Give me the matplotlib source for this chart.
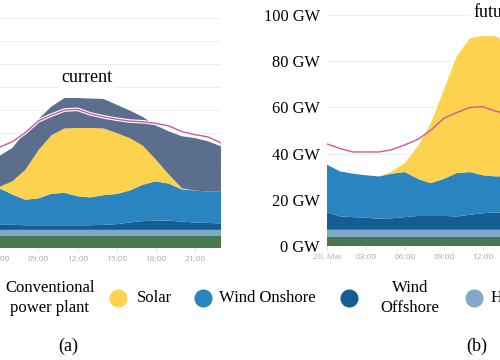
import matplotlib
matplotlib.use("Agg")
import matplotlib.pyplot as plt
import matplotlib.patheffects as pe
from matplotlib.lines import Line2D

hours = list(range(24))
tick_hours = [0, 3, 6, 9, 12, 15, 18, 21]
tick_labels = ["20. Mai", "03:00", "06:00", "09:00", "12:00", "15:00", "18:00", "21:00"]

# load (same day in both panels)
load = [44.2, 42.2, 40.7, 40.7, 40.7, 41.7, 43.8, 46.2, 50.2, 55.3, 57.8, 60.0,
        60.3, 58.3, 57.0, 56.0, 55.2, 54.9, 54.2, 53.1, 50.6, 49.3, 48.3, 45.7]

# current generation mix (GW)
biomass_cur = [5.3, 5.3, 5.3, 5.3, 5.3, 5.3, 5.3, 5.3, 5.3, 5.3, 5.3, 5.3,
               5.3, 5.3, 5.3, 5.3, 5.3, 5.3, 5.3, 5.3, 5.3, 5.3, 5.3, 5.3]
hydro_cur = [2.6, 2.6, 2.6, 2.6, 2.6, 2.6, 2.6, 2.6, 2.6, 2.6, 2.6, 2.6,
             2.6, 2.6, 2.6, 2.6, 2.6, 2.6, 2.6, 2.6, 2.6, 2.6, 2.6, 2.6]
offshore_cur = [2.5, 2.5, 2.4, 2.3, 2.2, 2.2, 2.2, 2.2, 2.0, 2.0, 2.0, 2.0,
                2.0, 2.0, 2.2, 2.5, 3.2, 3.8, 4.0, 4.0, 3.6, 3.2, 3.0, 2.8]
onshore_cur = [18.0, 18.5, 18.5, 18.0, 17.5, 17.0, 15.9, 13.2, 11.1, 11.7, 13.7, 14.1,
               12.6, 12.1, 12.9, 13.1, 13.9, 15.8, 17.1, 16.1, 14.0, 13.9, 13.6, 13.8]
solar_cur = [0, 0, 0, 0, 0, 0, 0.5, 5.7, 13.0, 20.9, 25.4, 28.0,
             29.7, 30.2, 29.0, 26.5, 22.8, 17.0, 9.5, 4.0, 0.5, 0, 0, 0]
conventional_cur = [14.0, 13.5, 13.0, 13.0, 13.0, 13.0, 13.5, 14.5, 16.5, 13.5, 12.5, 13.2,
                    13.0, 12.8, 12.8, 12.3, 12.0, 12.5, 14.8, 18.7, 22.6, 22.8, 21.9, 19.7]

# future generation mix (GW)
biomass_fut = [4.1, 4.1, 4.1, 4.1, 4.1, 4.1, 4.1, 4.1, 4.1, 4.1, 4.1, 4.1,
               4.1, 4.1, 4.1, 4.1, 4.1, 4.1, 4.1, 4.1, 4.1, 4.1, 4.1, 4.1]
hydro_fut = [2.9, 2.9, 2.9, 2.9, 2.9, 2.9, 2.9, 2.9, 2.9, 2.9, 2.9, 2.9,
             2.9, 2.9, 2.9, 2.9, 2.9, 2.9, 2.9, 2.9, 2.9, 2.9, 2.9, 2.9]
offshore_fut = [7.6, 5.8, 5.5, 5.2, 4.8, 5.0, 5.5, 6.0, 6.0, 6.0, 5.8, 6.5,
                7.2, 7.5, 7.5, 7.3, 7.0, 7.0, 7.2, 7.5, 7.8, 8.0, 8.0, 8.0]
onshore_fut = [20.6, 19.5, 18.8, 18.4, 18.3, 19.3, 19.5, 16.0, 14.2, 16.1, 18.8, 18.5,
               16.4, 15.6, 16.0, 17.0, 18.5, 20.0, 21.0, 21.0, 20.0, 19.5, 19.0, 19.0]
solar_fut = [0, 0, 0, 0, 0, 1.0, 4.0, 14.2, 26.1, 38.7, 50.7, 57.9,
             60.4, 60.6, 57.0, 50.0, 40.0, 28.0, 16.0, 6.0, 1.0, 0, 0, 0]

c_bio = "#47784f"
c_hydro = "#80a8c8"
c_off = "#135d93"
c_on = "#2a84c0"
c_solar = "#fdd24f"
c_conv = "#5b6e8d"
c_load = "#cc5a98"

serif = ["Liberation Serif", "DejaVu Serif"]

fig = plt.figure(figsize=(5, 3.6), dpi=100)

def style_axis(ax, yticks):
    ax.set_xlim(0, 23)
    ax.set_ylim(0, 100)
    for s in ax.spines.values():
        s.set_visible(False)
    ax.set_yticks(yticks)
    ax.grid(axis="y", color="#eeeeee", linewidth=0.8)
    ax.set_axisbelow(True)
    ax.set_xticks(tick_hours)
    ax.set_xticklabels(tick_labels, fontsize=6, color="#aaaaaa", family="Open Sans")
    ax.tick_params(axis="x", length=3, color="#dddddd", pad=3)
    ax.tick_params(axis="y", length=0, pad=5)

# (a) current
ax1 = fig.add_axes([-0.158, 0.311, 0.6, 0.639])
ax1.stackplot(hours, biomass_cur, hydro_cur, offshore_cur, onshore_cur, solar_cur,
              conventional_cur,
              colors=[c_bio, c_hydro, c_off, c_on, c_solar, c_conv], linewidth=0)
ax1.plot(hours, load, color=c_load, lw=1.0,
         path_effects=[pe.Stroke(linewidth=2.6, foreground="white"), pe.Normal()])
style_axis(ax1, range(0, 101, 10))
ax1.set_yticklabels([])
ax1.text(12.7, 74, "current", ha="center", va="center", fontsize=13, family=serif,
         bbox=dict(facecolor="white", edgecolor="none", pad=2))

# (b) future
ax2 = fig.add_axes([0.654, 0.3167, 0.598, 0.6417])
ax2.stackplot(hours, biomass_fut, hydro_fut, offshore_fut, onshore_fut, solar_fut,
              colors=[c_bio, c_hydro, c_off, c_on, c_solar], linewidth=0)
ax2.plot(hours, load, color=c_load, lw=1.0)
style_axis(ax2, range(0, 101, 20))
ax2.set_yticklabels([f"{v} GW" for v in range(0, 101, 20)], fontsize=11.8, family=serif)
ax2.text(12.9, 101, "future", ha="center", va="center", fontsize=13, family=serif,
         bbox=dict(facecolor="white", edgecolor="none", pad=2))

# legend row
legend_items = [
    (None, "Conventional\npower plant", 50, "center"),
    (c_solar, "Solar", 137, "left"),
    (c_on, "Wind Onshore", 219, "left"),
    (c_off, "Wind\nOffshore", 410, "center"),
    (c_hydro, "Hydro", 491, "left"),
]
marker_x = {c_solar: 118, c_on: 203, c_off: 349, c_hydro: 474}
for color, label, tx, ha in legend_items:
    if color is not None:
        fig.add_artist(Line2D([marker_x[color] / 500], [1 - 298 / 360], marker="o",
                              markersize=12, color=color, linestyle="none",
                              transform=fig.transFigure))
    fig.text(tx / 500, 1 - 298 / 360, label, ha=ha, va="center", fontsize=12,
             family=serif, linespacing=1.3, multialignment="center")

fig.text(68 / 500, 1 - 346 / 360, "(a)", ha="center", va="center", fontsize=13, family=serif)
fig.text(477 / 500, 1 - 346 / 360, "(b)", ha="center", va="center", fontsize=13, family=serif)

fig.savefig("out.png", dpi=100)
